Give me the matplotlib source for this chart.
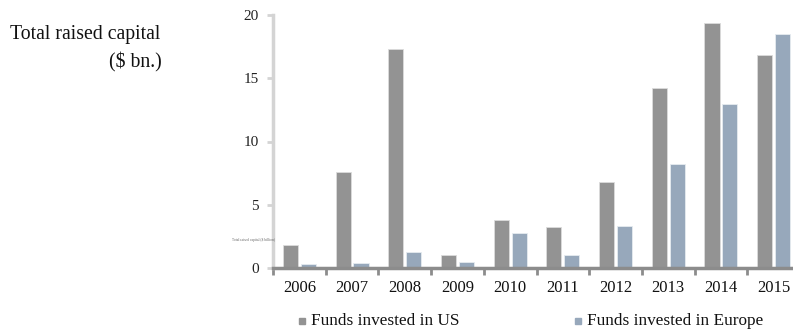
import numpy as np
import matplotlib.pyplot as plt
from matplotlib.lines import Line2D

plt.rcParams['font.family'] = ['Liberation Serif', 'DejaVu Serif']

years = ['2006', '2007', '2008', '2009', '2010', '2011', '2012', '2013', '2014', '2015']
funds_us = [1.8, 7.6, 17.3, 1.05, 3.8, 3.25, 6.8, 14.25, 19.4, 16.85]
funds_europe = [0.3, 0.4, 1.25, 0.5, 2.8, 1.05, 3.35, 8.25, 12.95, 18.5]
yticks = [0, 5, 10, 15, 20]

c_us = '#939393'
c_eu = '#97a8bb'

fig = plt.figure(figsize=(7.93, 3.31), dpi=100)
ax = fig.add_axes([273 / 793, 63 / 331, 527 / 793, 253 / 331])

x = np.arange(len(years))
w = 0.285
ax.bar(x - 0.17, funds_us, w, color=c_us, edgecolor='#dcdcdc', linewidth=0.6)
ax.bar(x + 0.17, funds_europe, w, color=c_eu, edgecolor='#e6ebf0', linewidth=0.6)

ax.set_xlim(-0.5, len(years) - 0.5)
ax.set_ylim(0, 20)
ax.set_yticks(yticks)
ax.set_yticklabels([str(t) for t in yticks], fontsize=11)
ax.set_xticks(x)
ax.set_xticklabels(years, fontsize=12)
ax.set_xticks(np.arange(len(years) + 1) - 0.5, minor=True)

for s in ['top', 'right']:
    ax.spines[s].set_visible(False)
ax.spines['left'].set_color('#d4d4d4')
ax.spines['left'].set_linewidth(2.5)
ax.spines['bottom'].set_color('#8c8c8c')
ax.spines['bottom'].set_linewidth(2.5)

ax.tick_params(axis='y', length=4, width=2, color='#d4d4d4', pad=6, labelcolor='#222222')
ax.tick_params(axis='x', which='major', length=0, pad=9, labelcolor='#111111')
ax.tick_params(axis='x', which='minor', length=5, width=2, color='#8c8c8c')

# tiny axis title embedded next to the y axis
fig.text(232 / 793, 1 - 240 / 331, 'Total raised capital ($ billion)', fontsize=2.6,
         color='#666666', va='center', ha='left')

fig.text(10 / 793, 1 - 35 / 331, 'Total raised capital', fontsize=14.2,
         va='center', ha='left', color='#111111')
fig.text(162 / 793, 1 - 62 / 331, '($ bn.)', fontsize=14.2,
         va='center', ha='right', color='#111111')

# legend: small squares with labels below the axis
legend_items = [('Funds invested in US', c_us, 302, 311),
                ('Funds invested in Europe', c_eu, 578, 587)]
for label, color, mx, tx in legend_items:
    fig.add_artist(Line2D([mx / 793], [1 - 321 / 331], marker='s', markersize=4.5,
                          color=color, linestyle='', transform=fig.transFigure))
    fig.text(tx / 793, 1 - 321 / 331, label, fontsize=12.4,
             va='center', ha='left', color='#111111')

fig.savefig('out.png', dpi=100)
